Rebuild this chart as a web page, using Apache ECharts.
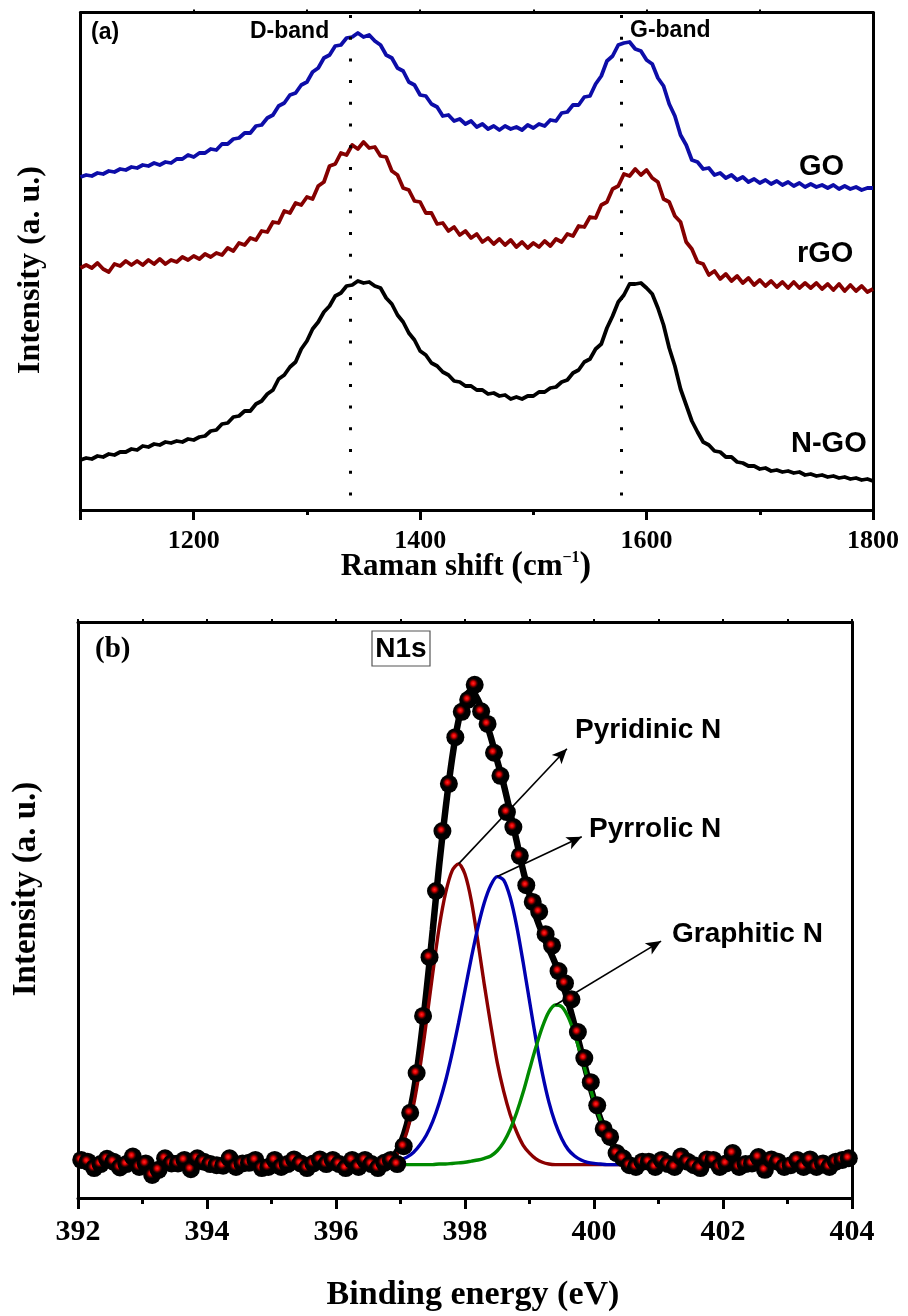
<!DOCTYPE html>
<html>
<head>
<meta charset="utf-8">
<script src="https://cdn.jsdelivr.net/npm/echarts@6.0.0/dist/echarts.min.js"></script>
<style>
html,body{margin:0;padding:0;background:#fff;}
#chart{width:908px;height:1316px;}
</style>
</head>
<body>
<div id="chart"></div>
<script>
// ---------------- Panel (a): Raman spectra ----------------
const ramanShift = [
1100,1105,1110,1115,1120,1125,1130,1135,1140,1145,
1150,1155,1160,1165,1170,1175,1180,1185,1190,1195,
1200,1205,1210,1215,1220,1225,1230,1235,1240,1245,
1250,1255,1260,1265,1270,1275,1280,1285,1290,1295,
1300,1305,1310,1315,1320,1325,1330,1335,1340,1345,
1350,1355,1360,1365,1370,1375,1380,1385,1390,1395,
1400,1405,1410,1415,1420,1425,1430,1435,1440,1445,
1450,1455,1460,1465,1470,1475,1480,1485,1490,1495,
1500,1505,1510,1515,1520,1525,1530,1535,1540,1545,
1550,1555,1560,1565,1570,1575,1580,1585,1590,1595,
1600,1605,1610,1615,1620,1625,1630,1635,1640,1645,
1650,1655,1660,1665,1670,1675,1680,1685,1690,1695,
1700,1705,1710,1715,1720,1725,1730,1735,1740,1745,
1750,1755,1760,1765,1770,1775,1780,1785,1790,1795,
1800];

const intensityGO = [
333,335,334,337,336,339,338,341,340,343,
342,345,344,347,345,348,347,351,351,355,
353,357,357,361,360,366,366,371,372,377,
377,384,385,392,395,404,407,415,417,425,
428,438,442,452,455,464,465,472,473,477,
473,475,469,465,455,452,442,439,428,425,
415,414,406,403,394,395,389,391,386,389,
383,386,381,384,380,384,381,383,380,385,
382,386,384,390,389,397,398,405,405,413,
414,426,434,449,454,465,467,468,461,459,
450,446,432,424,406,394,375,365,350,348,
341,342,335,337,332,335,330,333,328,331,
327,330,326,329,325,328,324,327,323,326,
323,325,322,325,321,324,321,323,320,322,
322];

const intensityRGO = [
242,245,242,247,241,238,246,244,249,245,
249,245,250,246,251,246,250,248,253,250,
254,251,256,253,257,255,262,259,267,265,
272,270,279,278,288,287,299,297,307,305,
313,311,324,328,344,346,357,355,365,361,
368,362,363,354,353,339,335,322,320,309,
308,297,297,286,287,279,283,275,279,272,
276,268,272,266,271,265,270,263,268,262,
267,263,269,264,271,268,276,274,284,283,
293,292,305,308,321,324,336,334,341,335,
340,332,328,311,308,294,288,268,261,248,
246,235,239,231,236,229,234,227,232,225,
230,224,229,223,228,222,228,222,227,222,
227,221,226,220,226,219,225,219,224,218,
221];

const intensityNGO = [
50,52,51,54,53,56,55,58,58,61,
60,64,63,66,65,68,67,69,68,71,
70,73,74,79,80,86,87,93,94,99,
99,106,109,116,120,131,135,143,148,161,
169,181,188,198,204,214,217,224,225,229,
227,228,224,222,212,206,195,188,177,170,
159,155,147,144,138,135,129,128,124,124,
120,120,116,117,114,115,111,113,111,114,
114,118,118,122,123,128,130,137,140,148,
151,161,166,182,194,208,215,226,226,227,
222,216,202,185,162,144,121,105,89,78,
68,65,59,58,53,53,48,47,44,44,
41,42,39,40,38,39,37,38,35,36,
34,35,33,34,32,33,31,32,30,31,
29];

const ramanNames = ['GO', 'rGO', 'N-GO'];
const bandNames = ['D-band', 'G-band'];
const bandPositions = [1338, 1578];
const ramanTickLabels = [1200, 1400, 1600, 1800];
const ramanMinorTicks = [1300, 1500, 1700];

// ---------------- Panel (b): XPS N1s ----------------
const xpsEnergy = [
392.05,392.15,392.25,392.35,392.45,392.55,392.65,392.75,392.85,392.95,
393.05,393.15,393.25,393.35,393.45,393.55,393.65,393.75,393.85,393.95,
394.05,394.15,394.25,394.35,394.45,394.55,394.65,394.75,394.85,394.95,
395.05,395.15,395.25,395.35,395.45,395.55,395.65,395.75,395.85,395.95,
396.05,396.15,396.25,396.35,396.45,396.55,396.65,396.75,396.85,396.95,
397.05,397.15,397.25,397.35,397.45,397.55,397.65,397.75,397.85,397.95,
398.05,398.15,398.25,398.35,398.45,398.55,398.65,398.75,398.85,398.95,
399.05,399.15,399.25,399.35,399.45,399.55,399.65,399.75,399.85,399.95,
400.05,400.15,400.25,400.35,400.45,400.55,400.65,400.75,400.85,400.95,
401.05,401.15,401.25,401.35,401.45,401.55,401.65,401.75,401.85,401.95,
402.05,402.15,402.25,402.35,402.45,402.55,402.65,402.75,402.85,402.95,
403.05,403.15,403.25,403.35,403.45,403.55,403.65,403.75,403.85,403.95];

const xpsIntensity = [
6.6,6.3,5.2,5.9,6.8,6.3,5.3,5.9,7.2,5.4,
6.0,4.0,4.9,6.9,6.0,6.0,6.6,5.0,6.9,6.3,
5.9,5.7,5.6,6.9,5.4,6.0,6.1,6.6,5.2,5.4,
6.6,5.4,5.9,6.7,6.0,5.2,6.0,6.7,5.9,6.6,
5.9,5.2,6.6,5.4,6.6,5.9,5.2,6.1,6.6,5.9,
9.0,14.8,21.7,31.6,41.8,53.3,63.7,71.9,80.0,84.4,
86.5,89.1,84.5,82.3,77.3,73.3,67.0,64.4,59.4,54.3,
51.4,49.7,45.8,43.8,39.4,37.3,34.5,28.8,24.3,20.1,
16.1,12.0,10.6,7.8,6.9,5.7,5.4,6.3,6.3,5.4,
6.6,5.9,5.4,7.2,6.3,5.7,5.2,6.7,6.6,5.4,
6.0,7.8,5.4,5.9,6.0,7.1,4.9,6.7,6.3,5.4,
5.7,6.6,5.4,6.7,5.4,6.0,5.4,6.3,6.6,6.9];

const fitEnergy = [
396.8,396.9,
397.0,397.1,397.2,397.3,397.4,397.5,397.6,397.7,397.8,397.9,
398.0,398.1,398.2,398.3,398.4,398.5,398.6,398.7,398.8,398.9,
399.0,399.1,399.2,399.3,399.4,399.5,399.6,399.7,399.8,399.9,
400.0,400.1,400.2,400.3,400.4,400.5,400.6];

const fitEnvelope = [
6.4,7.3,
9.4,12.8,18.1,25.9,35.6,46.5,57.8,67.7,76.3,82.9,
86.9,88.1,86.5,83.6,80.0,75.9,71.8,67.0,62.0,56.9,
52.7,48.9,45.9,43.3,40.7,37.7,34.0,29.9,25.5,21.1,
17.1,13.7,11.0,9.1,7.7,6.9,6.4];

const fitPyridinic = [
6.2,6.9,
8.6,11.5,16.0,22.5,30.5,39.0,47.0,53.0,56.8,58.0,
56.2,51.5,44.5,37.0,30.0,23.5,18.5,14.5,11.5,9.2,
7.8,6.8,6.2,5.9,5.8,5.8,5.8,5.8,5.8,5.8,
5.8,5.8,5.8,5.8,5.8,5.8,5.8];

const fitPyrrolic = [
6.0,6.2,
6.6,7.1,7.9,9.2,10.9,13.3,16.5,20.4,25.1,30.4,
36.1,41.8,47.0,51.3,54.3,55.8,55.2,52.2,47.3,41.0,
34.2,27.5,21.6,16.7,13.0,10.3,8.4,7.3,6.6,6.2,
6.0,5.9,5.8,5.8,5.8,5.8,5.8];

const fitGraphitic = [
5.8,5.8,
5.8,5.8,5.8,5.8,5.8,5.8,5.9,5.9,6.0,6.1,
6.2,6.4,6.6,6.9,7.3,8.2,9.7,11.9,14.8,18.3,
22.3,26.2,29.7,32.3,33.5,33.2,31.4,28.4,24.7,20.7,
16.9,13.6,11.0,9.1,7.7,6.9,6.4];

const componentNames = ['Pyridinic N', 'Pyrrolic N', 'Graphitic N'];
// where each annotation arrow ends (energy, intensity)
const arrowEnds = [[399.58, 78.0], [399.81, 62.7], [401.04, 44.6]];

// ---------------- styling ----------------
const SANS = '"Liberation Sans", Arial, Helvetica, sans-serif';
const SERIF = '"Liberation Serif", "Times New Roman", Times, serif';
const BLACK = '#000';

const pairs = (xs, ys) => xs.map((x, i) => [x, ys[i]]);
const peakOf = (ys) => {
  let k = 0;
  ys.forEach((v, i) => { if (v > ys[k]) k = i; });
  return [fitEnergy[k], ys[k]];
};

const components = [fitPyridinic, fitPyrrolic, fitGraphitic];
const compColors = ['#8b0000', '#0000b0', '#008a00'];
const ramanColors = ['#0d0da8', '#850000', '#000000'];
const ramanSets = [intensityGO, intensityRGO, intensityNGO];

const axisLineStyle = { show: true, onZero: false, lineStyle: { color: BLACK, width: 3 } };
const noSplit = { show: false };

const option = {
  backgroundColor: '#fff',
  animation: false,
  grid: [
    { left: 80.5, top: 12.5, right: 35, height: 497.5 },
    { left: 78, top: 622, width: 774, height: 576 }
  ],
  xAxis: [
    { type: 'value', gridIndex: 0, min: 1100, max: 1800, position: 'bottom',
      axisLine: axisLineStyle, splitLine: noSplit,
      axisTick: { show: true, length: 10, lineStyle: { color: BLACK, width: 3 },
                  customValues: [1100].concat(ramanTickLabels) },
      axisLabel: { customValues: ramanTickLabels, color: BLACK, fontFamily: SERIF,
                   fontWeight: 'bold', fontSize: 26, margin: 18,
                   formatter: (v) => String(v) } },
    { type: 'value', gridIndex: 0, min: 1100, max: 1800, position: 'bottom',
      axisLine: { show: false }, splitLine: noSplit, axisLabel: { show: false },
      axisTick: { show: true, length: 5, lineStyle: { color: BLACK, width: 3 },
                  customValues: ramanMinorTicks } },
    { type: 'value', gridIndex: 0, min: 1100, max: 1800, position: 'top',
      axisLine: axisLineStyle, splitLine: noSplit, axisLabel: { show: false },
      axisTick: { show: true, length: 3, lineStyle: { color: BLACK, width: 2 },
                  customValues: [1200, 1300, 1400, 1500, 1600, 1700] } },
    { type: 'value', gridIndex: 1, min: 392, max: 404, interval: 2, position: 'bottom',
      axisLine: axisLineStyle, splitLine: noSplit,
      axisTick: { show: true, length: 11, lineStyle: { color: BLACK, width: 3 } },
      minorTick: { show: true, splitNumber: 2, length: 6, lineStyle: { color: BLACK, width: 3 } },
      minorSplitLine: { show: false },
      axisLabel: { color: BLACK, fontFamily: SERIF, fontWeight: 'bold', fontSize: 30, margin: 19,
                   formatter: (v) => String(v) } },
    { type: 'value', gridIndex: 1, min: 392, max: 404, interval: 1, position: 'top',
      axisLine: axisLineStyle, splitLine: noSplit, axisLabel: { show: false },
      axisTick: { show: true, length: 3, lineStyle: { color: BLACK, width: 2 } } }
  ],
  yAxis: [
    { type: 'value', gridIndex: 0, min: 0, max: 497.5, position: 'left',
      axisLine: axisLineStyle, axisTick: { show: false }, axisLabel: { show: false }, splitLine: noSplit },
    { type: 'value', gridIndex: 0, min: 0, max: 497.5, position: 'right',
      axisLine: axisLineStyle, axisTick: { show: false }, axisLabel: { show: false }, splitLine: noSplit },
    { type: 'value', gridIndex: 1, min: 0, max: 100, position: 'left',
      axisLine: axisLineStyle, axisTick: { show: false }, axisLabel: { show: false }, splitLine: noSplit },
    { type: 'value', gridIndex: 1, min: 0, max: 100, position: 'right',
      axisLine: axisLineStyle, axisTick: { show: false }, axisLabel: { show: false }, splitLine: noSplit }
  ],
  series: []
};

// Raman curves
ramanSets.forEach((ys, i) => {
  option.series.push({
    name: ramanNames[i], type: 'line', xAxisIndex: 0, yAxisIndex: 0,
    data: pairs(ramanShift, ys), showSymbol: false, silent: true, z: 3 + i,
    lineStyle: { color: ramanColors[i], width: 3.8, join: 'round' }
  });
});

// dotted band guides
option.series.push({
  name: 'bands', type: 'line', xAxisIndex: 0, yAxisIndex: 0, data: [], z: 8,
  markLine: {
    silent: true, symbol: 'none', animation: false, label: { show: false },
    lineStyle: { color: BLACK, width: 3, type: [3, 18.7] },
    emphasis: { disabled: true },
    data: bandPositions.map(b => [{ coord: [b, 495] }, { coord: [b, 13] }])
  }
});

// XPS envelope fit
option.series.push({
  name: 'fit', type: 'line', xAxisIndex: 3, yAxisIndex: 2,
  data: pairs(fitEnergy, fitEnvelope), showSymbol: false, smooth: 0.3, silent: true, z: 2,
  lineStyle: { color: BLACK, width: 6.5 }
});

// components
components.forEach((ys, i) => {
  option.series.push({
    name: componentNames[i], type: 'line', xAxisIndex: 3, yAxisIndex: 2,
    data: pairs(fitEnergy, ys), showSymbol: false, smooth: 0.3, silent: true, z: 3,
    lineStyle: { color: compColors[i], width: 3.4 }
  });
});

// measured points
option.series.push({
  name: 'N1s', type: 'scatter', xAxisIndex: 3, yAxisIndex: 2,
  data: pairs(xpsEnergy, xpsIntensity), symbol: 'circle', symbolSize: 18, silent: true, z: 5,
  itemStyle: {
    opacity: 1,
    color: { type: 'radial', x: 0.42, y: 0.42, r: 0.55,
      colorStops: [
        { offset: 0, color: '#ff2a2a' },
        { offset: 0.2, color: '#e00000' },
        { offset: 0.36, color: '#4a0000' },
        { offset: 0.5, color: '#000' },
        { offset: 1, color: '#000' }
      ] }
  }
});

// annotation arrows
option.series.push({
  name: 'arrows', type: 'line', xAxisIndex: 3, yAxisIndex: 2, data: [], z: 10,
  markLine: {
    silent: true, animation: false, symbol: ['none', 'arrow'], symbolSize: [10, 15],
    label: { show: false }, emphasis: { disabled: true },
    lineStyle: { color: BLACK, width: 1.6, type: 'solid' },
    data: components.map((ys, i) => [{ coord: peakOf(ys) }, { coord: arrowEnds[i] }])
  }
});

const txt = (x, y, text, font, extra) => Object.assign({
  type: 'text', x: x, y: y, silent: true, z: 100,
  style: Object.assign({ text: text, font: font, fill: BLACK, align: 'left', verticalAlign: 'middle' },
    (extra && extra.style) || {})
}, extra && extra.rotation ? { rotation: extra.rotation } : {});

option.graphic = { elements: [
  // panel (a)
  txt(91, 33, '(a)', 'bold 23px ' + SANS),
  txt(250, 32, bandNames[0], 'bold 23px ' + SANS),
  txt(630, 31, bandNames[1], 'bold 23px ' + SANS),
  txt(799, 167, ramanNames[0], 'bold 29px ' + SANS),
  txt(797, 254, ramanNames[1], 'bold 29px ' + SANS),
  txt(791, 444, ramanNames[2], 'bold 29px ' + SANS),
  txt(31, 270, 'Intensity (a. u.)', 'bold 32px ' + SERIF,
      { rotation: Math.PI / 2, style: { align: 'center' } }),
  {
    type: 'text', x: 466, y: 567, silent: true, z: 100,
    style: {
      text: '{a|Raman shift }{p|(}{a|cm}{s|−1}{p|)}',
      align: 'center', verticalAlign: 'middle', fill: BLACK,
      rich: {
        a: { font: 'bold 31px ' + SERIF, fill: BLACK },
        p: { font: 'bold 35px ' + SERIF, fill: BLACK },
        s: { font: 'bold 16px ' + SERIF, fill: BLACK, verticalAlign: 'top' }
      }
    }
  },
  // panel (b)
  txt(95, 650, '(b)', 'bold 29px ' + SERIF),
  { type: 'rect', silent: true, z: 99, shape: { x: 372, y: 631, width: 58, height: 35 },
    style: { fill: '#fff', stroke: '#555', lineWidth: 1.2 } },
  txt(401, 649, 'N1s', 'bold 28px ' + SANS, { style: { align: 'center' } }),
  txt(575, 730, componentNames[0], 'bold 28px ' + SANS),
  txt(589, 829, componentNames[1], 'bold 28px ' + SANS),
  txt(672, 934, componentNames[2], 'bold 28px ' + SANS),
  txt(26, 889, 'Intensity (a. u.)', 'bold 33px ' + SERIF,
      { rotation: Math.PI / 2, style: { align: 'center' } }),
  txt(473, 1295, 'Binding energy (eV)', 'bold 34px ' + SERIF, { style: { align: 'center' } })
] };

const chart = echarts.init(document.getElementById('chart'), null, { renderer: 'canvas', width: 908, height: 1316 });
chart.setOption(option);
</script>
</body>
</html>
